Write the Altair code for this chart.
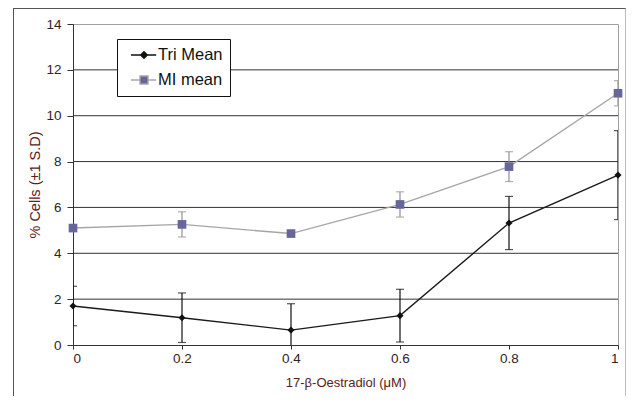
import altair as alt
import pandas as pd

dose = [0, 0.2, 0.4, 0.6, 0.8, 1.0]
tri_mean = [1.70, 1.19, 0.65, 1.28, 5.32, 7.41]
tri_sd = [0.86, 1.08, 1.15, 1.15, 1.16, 1.94]
mi_mean = [5.10, 5.26, 4.86, 6.13, 7.78, 10.98]
mi_sd = [0.12, 0.55, 0.10, 0.55, 0.65, 0.55]
series = ["Tri Mean", "MI mean"]
x_ticks = [0, 0.2, 0.4, 0.6, 0.8, 1.0]
y_ticks = [0, 2, 4, 6, 8, 10, 12, 14]
grid_vals = [2, 4, 6, 8, 10, 12]

rows = []
for s, means, sds in [(series[0], tri_mean, tri_sd), (series[1], mi_mean, mi_sd)]:
    for d, m, sd in zip(dose, means, sds):
        rows.append({"dose": d, "val": m, "lo": m - sd, "hi": m + sd, "series": s})
df = pd.DataFrame(rows)

FONT = "Liberation Sans"

xenc = alt.X("dose:Q", scale=alt.Scale(domain=[0, 1], nice=False, zero=False),
             axis=alt.Axis(values=x_ticks, format="~g", title="17-β-Oestradiol (μM)",
                           grid=False, tickSize=4, labelPadding=2, titlePadding=12,
                           domainColor="#333", tickColor="#333"))
yscale = alt.Scale(domain=[0, 14], nice=False)
yaxis = alt.Axis(values=y_ticks, title="% Cells (±1 S.D)", grid=False, tickSize=6,
                 labelPadding=6, titlePadding=3, titleFontSize=14.5,
                 domainColor="#333", tickColor="#333")

grid = alt.Chart(pd.DataFrame({"g": grid_vals})).mark_rule(color="#333333", strokeWidth=1).encode(
    y=alt.Y("g:Q", scale=yscale, axis=yaxis)
)

styles = {
    "Tri Mean": dict(line="#1a1a1a", err="#111111", shape="diamond", size=50, fill="#111111"),
    "MI mean": dict(line="#a6a6a6", err="#909090", shape="square", size=75, fill="#66669a"),
}

layers = [grid]
first = True
for s in series:
    st = styles[s]
    sub = alt.Chart(df[df.series == s])
    layers.append(sub.mark_rule(strokeWidth=1.2, clip=True, color=st["err"]).encode(
        x=xenc if first else alt.X("dose:Q"), y=alt.Y("lo:Q", scale=yscale), y2="hi:Q"))
    first = False
    layers.append(sub.mark_tick(orient="horizontal", size=8, thickness=1.2, clip=True, color=st["err"]).encode(
        x="dose:Q", y=alt.Y("lo:Q", scale=yscale)))
    layers.append(sub.mark_tick(orient="horizontal", size=8, thickness=1.2, clip=True, color=st["err"]).encode(
        x="dose:Q", y=alt.Y("hi:Q", scale=yscale)))
for s in series[::-1]:
    st = styles[s]
    sub = alt.Chart(df[df.series == s])
    layers.append(sub.mark_line(strokeWidth=1.4, color=st["line"]).encode(
        x="dose:Q", y=alt.Y("val:Q", scale=yscale)))
for s in series:
    st = styles[s]
    sub = alt.Chart(df[df.series == s])
    layers.append(sub.mark_point(shape=st["shape"], filled=True, size=st["size"],
                                 color=st["fill"], opacity=1).encode(
        x="dose:Q", y=alt.Y("val:Q", scale=yscale)))

legend = alt.Legend(
    orient="none", legendX=44, legendY=15, title=None,
    fillColor="white", strokeColor="#111111", padding=7,
    symbolSize=256, rowPadding=7, labelOffset=16,
    labelFontSize=16.5, labelFont=FONT, labelColor="#111111",
    labelExpr="datum.label + '\u00a0\u00a0'", symbolStrokeWidth=1.3, symbolOpacity=1
)
tri_path = "M-0.25,0H0.95M1.8,0H2.9M1.375,-0.42L1.8,0L1.375,0.42L0.95,0Z"
mi_path = "M-0.25,0H0.875M1.875,0H2.9M0.875,-0.5H1.875V0.5H0.875Z"
leg_layer = alt.Chart(df).transform_filter("false").mark_point(
    filled=True, size=256, strokeWidth=1.3, opacity=1
).encode(
    x="dose:Q", y=alt.Y("val:Q", scale=yscale),
    shape=alt.Shape("series:N", scale=alt.Scale(domain=series, range=[tri_path, mi_path]), legend=legend),
    fill=alt.Fill("series:N", scale=alt.Scale(domain=series, range=["#111111", "#66669a"]), legend=legend),
    stroke=alt.Stroke("series:N", scale=alt.Scale(domain=series, range=["#111111", "#a6a6a6"]), legend=legend),
)
layers.append(leg_layer)

one = pd.DataFrame({"a": [0]})
layers.append(alt.Chart(one).mark_rule(color="#555555", strokeWidth=1).encode(
    x=alt.value(-59.5), y=alt.value(-15.5), y2=alt.value(400)))
layers.append(alt.Chart(one).mark_rule(color="#555555", strokeWidth=1).encode(
    x=alt.value(-60), x2=alt.value(560), y=alt.value(-15.5)))
layers.append(alt.Chart(one).mark_rule(color="#bbbbbb", strokeWidth=1).encode(
    x=alt.value(552.5), y=alt.value(-15.5), y2=alt.value(400)))

chart = alt.layer(*layers).properties(
    width=545, height=321,
    autosize=alt.AutoSizeParams(type="none"),
    padding={"left": 65, "top": 16, "right": 8, "bottom": 51},
    background="white"
).configure_view(
    stroke="#a0a0a0", strokeWidth=1
).configure_axis(
    labelFont=FONT, titleFont=FONT, labelFontSize=13.5, titleFontSize=13,
    labelColor="#332222", titleColor="#5a2020", titleFontWeight="normal"
)

chart.save("out.html", embed_options={"renderer": "svg", "actions": False})
